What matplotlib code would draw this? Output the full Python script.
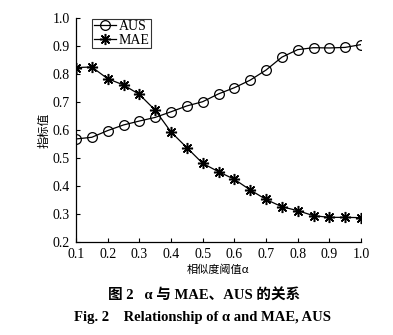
import matplotlib
matplotlib.use("Agg")
import matplotlib.pyplot as plt

alpha = [0.1, 0.15, 0.2, 0.25, 0.3, 0.35, 0.4, 0.45, 0.5, 0.55,
         0.6, 0.65, 0.7, 0.75, 0.8, 0.85, 0.9, 0.95, 1.0]
aus = [0.568, 0.574, 0.598, 0.618, 0.632, 0.645, 0.665, 0.686, 0.701, 0.729,
       0.751, 0.778, 0.814, 0.860, 0.887, 0.894, 0.893, 0.895, 0.905]
mae = [0.823, 0.825, 0.783, 0.761, 0.727, 0.671, 0.593, 0.537, 0.481, 0.451,
       0.424, 0.386, 0.352, 0.326, 0.312, 0.294, 0.288, 0.288, 0.287]
xticks = [0.1, 0.2, 0.3, 0.4, 0.5, 0.6, 0.7, 0.8, 0.9, 1.0]
yticks = [0.2, 0.3, 0.4, 0.5, 0.6, 0.7, 0.8, 0.9, 1.0]

serif = ['Liberation Serif', 'Noto Sans CJK SC', 'DejaVu Sans']
plt.rcParams['font.family'] = serif

fig = plt.figure(figsize=(3.93, 3.35), dpi=100)
ax = fig.add_axes([76/393, 1-242/335, (361-76)/393, (242-18)/335])

ax.plot(alpha, aus, color='black', lw=0.9, marker='o', ms=7,
        mfc='none', mec='black', mew=0.9, label='AUS')
ax.plot(alpha, mae, color='black', lw=0.9, marker=(8, 2, 0), ms=8,
        mec='black', mew=1.1, label='MAE')

ax.set_xlim(0.1, 1.0)
ax.set_ylim(0.2, 1.0)
ax.set_xticks(xticks)
ax.set_yticks(yticks)
ax.set_xticklabels([f"{v:.1f}" for v in xticks])
ax.set_yticklabels([f"{v:.1f}" for v in yticks])
ax.tick_params(direction='in', length=3, width=0.8, labelsize=10)
ax.tick_params(axis='x', pad=4.5)
ax.tick_params(axis='y', pad=4.5)
ax.spines['top'].set_visible(False)
ax.spines['right'].set_visible(False)
for s in ('left', 'bottom'):
    ax.spines[s].set_linewidth(0.9)

ax.set_ylabel('指标值', family=['Noto Sans CJK SC'], fontsize=8.5, labelpad=1)
ax.set_xlabel('相似度阈值α', family=['Noto Sans CJK SC', 'DejaVu Serif'], fontsize=8, labelpad=2.5)

leg = ax.legend(loc='upper left', bbox_to_anchor=(0.055, 1.0), frameon=True,
                fancybox=False, edgecolor='black', fontsize=10,
                handlelength=1.6, handletextpad=0.2, borderpad=0.1,
                labelspacing=0.05, borderaxespad=0.05)
leg.get_frame().set_linewidth(0.8)

fig.text(0.52, 1-296/335, '图 2   α 与 MAE、AUS 的关系', ha='center', va='center',
         fontsize=10.5, fontweight='bold', family=serif)
fig.text(0.515, 1-318/335, 'Fig. 2    Relationship of α and MAE, AUS', ha='center', va='center',
         fontsize=10.5, fontweight='bold', family=serif)

fig.savefig('out.png', dpi=100)
